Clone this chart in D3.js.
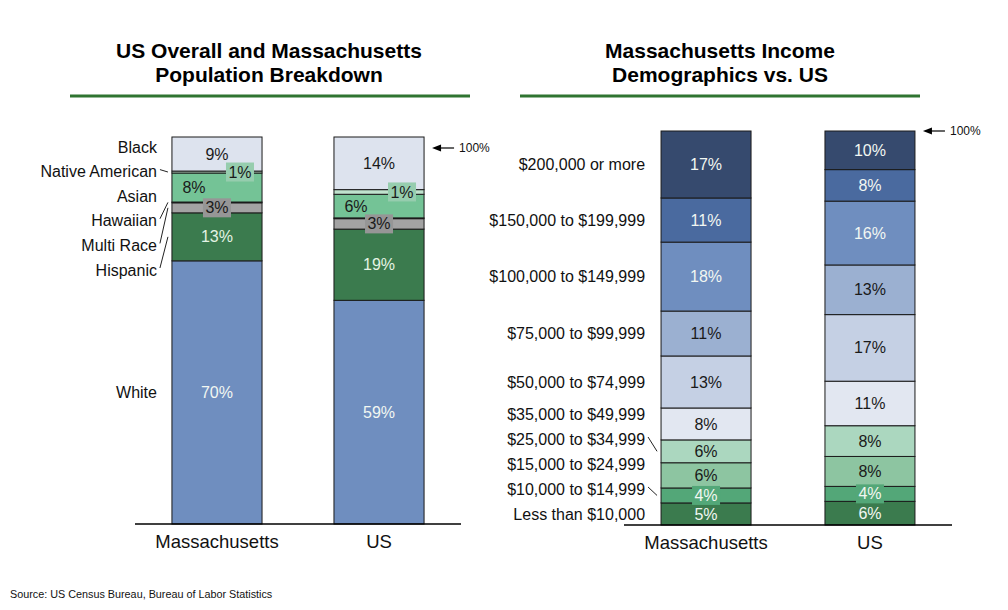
<!DOCTYPE html>
<html>
<head>
<meta charset="utf-8">
<script src="https://cdn.jsdelivr.net/npm/d3@7"></script>
<style>
  body { margin: 0; background: #fff; }
  svg { font-family: Arial, "Liberation Sans", sans-serif; }
</style>
</head>
<body>
<svg id="chart" width="1008" height="610"></svg>
<script>
// ---- data (percent of population, bottom to top) ----
const raceGroups = ["Massachusetts", "US"]
const raceSeries = ["White", "Hispanic", "Multi Race", "Hawaiian", "Asian", "Native American", "Black"]
const raceMA = [68.0, 12.4, 2.6, 0.2, 7.5, 0.5, 8.8]
const raceUS = [57.8, 18.4, 2.7, 0.2, 6.1, 1.2, 13.6]
const raceLabelsMA = ["70%", "13%", "3%", "", "8%", "1%", "9%"]
const raceLabelsUS = ["59%", "19%", "3%", "", "6%", "1%", "14%"]

// household income (percent, bottom to top)
const incomeGroups = ["Massachusetts", "US"]
const incomeSeries = ["Less than $10,000", "$10,000 to $14,999", "$15,000 to $24,999", "$25,000 to $34,999",
  "$35,000 to $49,999", "$50,000 to $74,999", "$75,000 to $99,999", "$100,000 to $149,999",
  "$150,000 to $199,999", "$200,000 or more"]
const incomeMA = [5.6, 3.8, 6.4, 5.8, 8.1, 13.2, 11.4, 17.5, 11.2, 17.0]
const incomeUS = [6.0, 3.8, 7.6, 7.8, 11.3, 16.9, 12.6, 16.2, 8.0, 9.8]
const incomeLabelsMA = ["5%", "4%", "6%", "6%", "8%", "13%", "11%", "18%", "11%", "17%"]
const incomeLabelsUS = ["6%", "4%", "8%", "8%", "11%", "17%", "13%", "16%", "8%", "10%"]

const sourceText = "Source: US Census Bureau, Bureau of Labor Statistics"

// ---- styles ----
const dark = "#1a1a1a", light = "#f2f7f2"
const raceStyle = {
  "White":           {fill: "#6f8ebf", text: light},
  "Hispanic":        {fill: "#3b7b4e", text: "#e4f3e4"},
  "Multi Race":      {fill: "#a3a3a3", text: dark, box: "#969696"},
  "Hawaiian":        {fill: "#333333", text: dark},
  "Asian":           {fill: "#74c396", text: dark, dx: -23},
  "Native American": {fill: "#bfe2cd", text: dark, dx: 23, box: "#96cdae"},
  "Black":           {fill: "#dde3ee", text: dark}
}
const incomeColors = ["#3b7b4e", "#53a778", "#8dc5a1", "#abd7bf", "#e2e7f1",
  "#c5d0e4", "#9bb0d1", "#6f8ebf", "#4a6a9f", "#364a6e"]
const incomeText = [light, light, dark, dark, dark, dark, dark, light, light, light]

const svg = d3.select("#chart")

function drawStack(opt) {
  const g = svg.append("g")
  const x = d3.scaleBand().domain(opt.groups).range([opt.x0, opt.x1])
    .paddingInner(opt.pi).paddingOuter(opt.po)
  const y = d3.scaleLinear().domain([0, 100]).range([opt.base, opt.top])
  const bw = x.bandwidth()

  const rows = opt.groups.map((grp, gi) => {
    const r = {group: grp}
    opt.series.forEach((s, si) => r[s] = opt.values[gi][si])
    return r
  })
  const stacked = d3.stack().keys(opt.series)(rows)

  // bars
  stacked.forEach((layer, si) => {
    g.selectAll(null).data(layer).enter().append("rect")
      .attr("x", d => x(d.data.group))
      .attr("y", d => y(d[1]))
      .attr("width", bw)
      .attr("height", d => y(d[0]) - y(d[1]))
      .attr("fill", opt.fill(layer.key, si))
      .attr("stroke", "#1a1a1a")
      .attr("stroke-width", 1)
  })

  // segment labels
  stacked.forEach((layer, si) => {
    const st = opt.segStyle(layer.key, si)
    layer.forEach((d, gi) => {
      const txt = opt.labels[gi][si]
      if (!txt) return
      const cx = x(d.data.group) + bw / 2 + (st.dx || 0)
      const cy = y((d[0] + d[1]) / 2)
      if (st.box) {
        g.append("rect").attr("x", cx - 14).attr("y", cy - 9.5)
          .attr("width", 28).attr("height", 19).attr("fill", st.box)
      }
      g.append("text").attr("x", cx).attr("y", cy).attr("dy", "0.35em")
        .attr("text-anchor", "middle").attr("font-size", 16)
        .attr("fill", st.text).text(txt)
    })
  })

  // baseline and group axis
  g.append("line").attr("x1", opt.x0).attr("x2", opt.x1)
    .attr("y1", y(0)).attr("y2", y(0)).attr("stroke", "#000").attr("stroke-width", 1.3)
  const ax = g.append("g").attr("transform", `translate(0,${y(0)})`)
    .call(d3.axisBottom(x).tickSize(0).tickPadding(11))
  ax.select(".domain").remove()
  ax.selectAll("text").attr("font-size", 18.5).attr("fill", "#111")
    .attr("font-family", "Arial, 'Liberation Sans', sans-serif")

  // series names on the left of the first bar
  const firstX = x(opt.groups[0])
  opt.series.forEach((s, si) => {
    const ly = opt.labelY(si, y, stacked[si][0])
    g.append("text").attr("x", firstX - opt.nameGap).attr("y", ly).attr("dy", "0.35em")
      .attr("text-anchor", "end").attr("font-size", 16).attr("fill", "#111").text(s)
    if (opt.leaders.includes(s)) {
      const d = stacked[si][0]
      g.append("line")
        .attr("x1", firstX - opt.nameGap + 3).attr("y1", ly - 2)
        .attr("x2", firstX - 4).attr("y2", y((d[0] + d[1]) / 2))
        .attr("stroke", "#222").attr("stroke-width", 1)
    }
  })

  // 100% marker
  const last = opt.groups[opt.groups.length - 1]
  const ay = y(100) + opt.arrowDy
  const ax0 = x(last) + bw + 8
  g.append("line").attr("x1", ax0 + 6).attr("x2", ax0 + 22).attr("y1", ay).attr("y2", ay)
    .attr("stroke", "#000").attr("stroke-width", 1.2)
  g.append("path").attr("d", `M${ax0},${ay} l9,-3.5 l0,7 z`).attr("fill", "#000")
  g.append("text").attr("x", ax0 + 27).attr("y", ay).attr("dy", "0.35em")
    .attr("font-size", 12).attr("fill", "#111").text("100%")

  // title and green rule
  opt.title.forEach((t, i) => {
    svg.append("text").attr("x", opt.titleX).attr("y", 58 + i * 23.5)
      .attr("text-anchor", "middle").attr("font-size", 21).attr("font-weight", "bold")
      .attr("fill", "#000").text(t)
  })
  svg.append("line").attr("x1", opt.ruleX[0]).attr("x2", opt.ruleX[1])
    .attr("y1", 96).attr("y2", 96).attr("stroke", "#2f7431").attr("stroke-width", 3)
}

drawStack({
  groups: raceGroups, series: raceSeries,
  values: [raceMA, raceUS], labels: [raceLabelsMA, raceLabelsUS],
  x0: 135, x1: 461, pi: 0.444, po: 0.228, base: 524, top: 137,
  fill: s => raceStyle[s].fill,
  segStyle: s => raceStyle[s],
  nameGap: 15,
  labelY: (si, y, d) => si === 0 ? y((d[0] + d[1]) / 2) : 147 + (raceSeries.length - 1 - si) * 24.6,
  leaders: ["Native American", "Hawaiian", "Multi Race", "Hispanic"],
  arrowDy: 11,
  title: ["US Overall and Massachusetts", "Population Breakdown"],
  titleX: 269, ruleX: [70, 470]
})

drawStack({
  groups: incomeGroups, series: incomeSeries,
  values: [incomeMA, incomeUS], labels: [incomeLabelsMA, incomeLabelsUS],
  x0: 624, x1: 952, pi: 0.451, po: 0.226, base: 525, top: 131,
  fill: (s, i) => incomeColors[i],
  segStyle: (s, i) => ({fill: incomeColors[i], text: incomeText[i], box: i === 1 ? incomeColors[1] : null}),
  nameGap: 16,
  labelY: (si, y, d) => si >= 5 ? y((d[0] + d[1]) / 2) : 514 - si * 25,
  leaders: ["$10,000 to $14,999", "$25,000 to $34,999"],
  arrowDy: 0,
  title: ["Massachusetts Income", "Demographics vs. US"],
  titleX: 720, ruleX: [520, 920]
})

svg.append("text").attr("x", 10).attr("y", 598).attr("font-size", 10.8)
  .attr("fill", "#111").text(sourceText)
</script>
</body>
</html>
